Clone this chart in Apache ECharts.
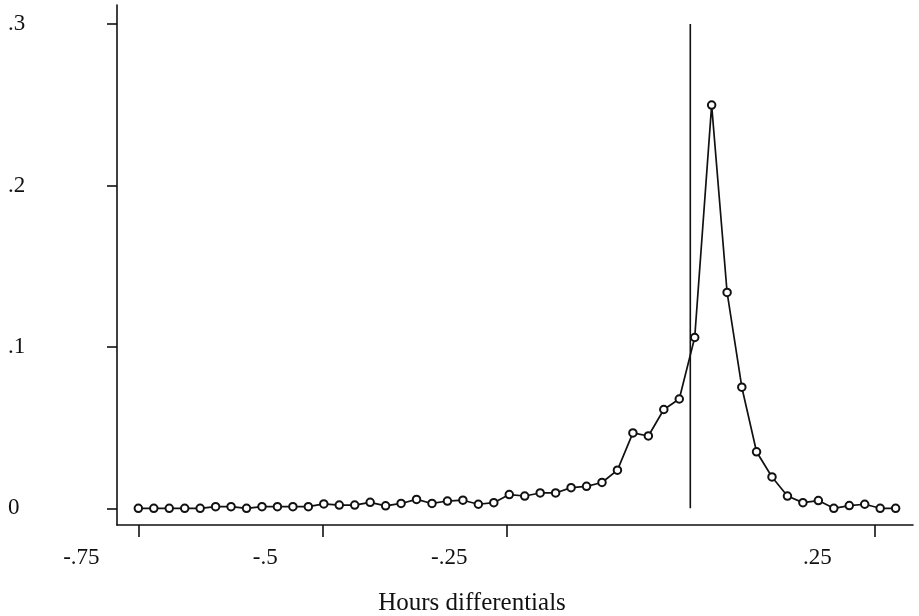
<!DOCTYPE html>
<html>
<head>
<meta charset="utf-8">
<script src="https://cdn.jsdelivr.net/npm/echarts@6/dist/echarts.min.js"></script>
<style>
html,body{margin:0;padding:0;background:#fff;}
#chart{width:919px;height:616px;}
</style>
</head>
<body>
<div id="chart"></div>
<script>
// Bin centres (hours differentials)
const xValues = [-0.750,-0.729,-0.708,-0.687,-0.666,-0.645,-0.624,-0.603,-0.582,-0.561,
  -0.540,-0.519,-0.498,-0.477,-0.456,-0.435,-0.414,-0.393,-0.372,-0.351,
  -0.330,-0.309,-0.288,-0.267,-0.246,-0.225,-0.204,-0.183,-0.162,-0.141,
  -0.120,-0.099,-0.078,-0.057,-0.036,-0.015,0.006,0.029,0.050,0.070,
  0.090,0.111,0.132,0.153,0.174,0.195,0.216,0.237,0.258,0.279];
// Fractions
const yValues = [0.000,0.000,0.000,0.000,0.000,0.001,0.001,0.000,0.001,0.001,
  0.001,0.001,0.0027,0.002,0.002,0.0037,0.0015,0.003,0.0055,0.003,
  0.0045,0.005,0.0025,0.0035,0.0085,0.0076,0.0095,0.0095,0.0128,0.0136,
  0.016,0.0236,0.0467,0.0448,0.0612,0.0677,0.1058,0.2498,0.1337,0.0750,
  0.0350,0.0194,0.0076,0.0035,0.0048,0.000,0.0017,0.0025,0.000,0.000];
// Vertical reference line at zero
const refX = [0, 0];
const refY = [0, 0.3];
// Tick values
const xTicks = [-0.75, -0.5, -0.25, 0.25];
const yTicks = [0, 0.1, 0.2, 0.3];
const xTitle = 'Hours differentials';

function fmt(v) {
  if (Math.abs(v) < 1e-9) return '0';
  let s = String(Math.round(v * 100) / 100);
  return s.replace('0.', '.');
}

const FONT = '"Liberation Serif", "Times New Roman", serif';
const INK = '#111';

const chart = echarts.init(document.getElementById('chart'), null, {renderer: 'canvas'});
chart.setOption({
  backgroundColor: '#fff',
  animation: false,
  grid: {left: 117, right: 6, top: 5, bottom: 91, containLabel: false, outerBoundsMode: 'none'},
  xAxis: {
    type: 'value',
    min: -0.779, max: 0.3026,
    splitLine: {show: false},
    axisLine: {show: true, onZero: false, lineStyle: {color: INK, width: 1.6}},
    axisTick: {show: true, customValues: xTicks, length: 12, lineStyle: {color: INK, width: 1.6}},
    axisLabel: {
      customValues: xTicks, formatter: fmt, margin: 21,
      fontFamily: FONT, fontSize: 23, color: INK,
      align: 'center', padding: [0, 114, 0, 0]
    },
    name: xTitle, nameLocation: 'middle', nameGap: 66,
    nameTextStyle: {fontFamily: FONT, fontSize: 25, color: INK, padding: [0, 86, 0, 0]}
  },
  yAxis: {
    type: 'value',
    min: -0.01035, max: 0.3118,
    splitLine: {show: false},
    axisLine: {show: true, onZero: false, lineStyle: {color: INK, width: 1.6}},
    axisTick: {show: true, customValues: yTicks, length: 10, lineStyle: {color: INK, width: 1.6}},
    axisLabel: {
      customValues: yTicks, formatter: fmt, margin: 109, align: 'left',
      fontFamily: FONT, fontSize: 23, color: INK
    }
  },
  series: [
    {
      type: 'line',
      data: xValues.map((x, i) => [x, yValues[i]]),
      symbol: 'emptyCircle', symbolSize: 7.5,
      lineStyle: {color: INK, width: 1.7},
      itemStyle: {color: INK, borderColor: INK, borderWidth: 1.5},
      z: 3
    },
    {
      type: 'line',
      data: refX.map((x, i) => [x, refY[i]]),
      symbol: 'none',
      lineStyle: {color: INK, width: 1.6},
      z: 2
    }
  ]
});
</script>
</body>
</html>
